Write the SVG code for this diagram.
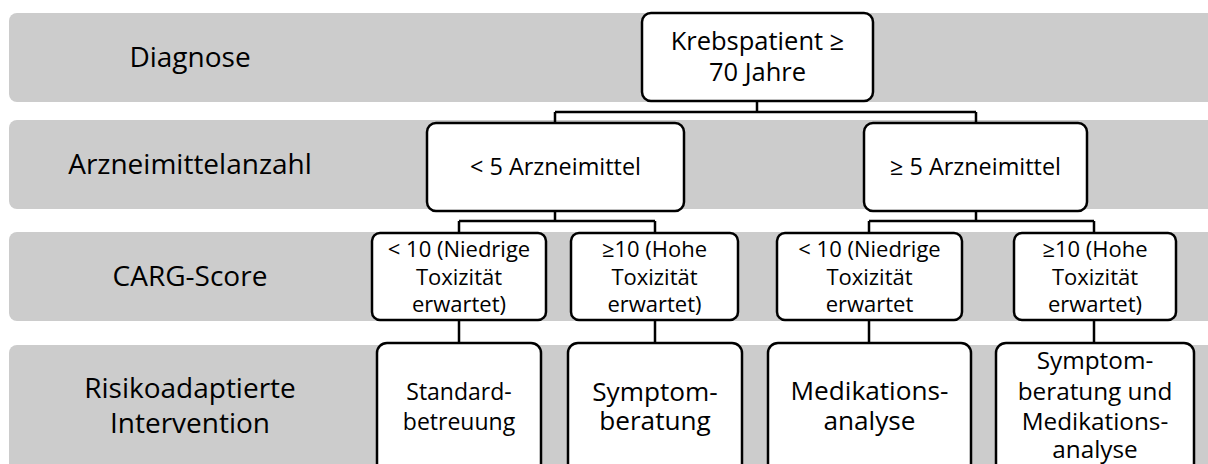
<svg xmlns="http://www.w3.org/2000/svg" width="1208" height="464" viewBox="0 0 1208 464">
<style>
.band{fill:#cccccc;}
.box{fill:#ffffff;stroke:#000000;stroke-width:2.5;}
.conn{fill:none;stroke:#000000;stroke-width:2.5;}
text{font-family:"Open Sans","Liberation Sans",sans-serif;fill:#000000;text-anchor:middle;}
.lbl{font-size:28px;}
.root{font-size:25.5px;}
.n{font-size:23.4px;}
.c{font-size:22px;}
.i{font-size:26.2px;}
.s{font-size:23px;}
.q{font-size:24.3px;}
</style>
<rect width="1208" height="464" fill="#ffffff"/>
<g id="bands">
<rect class="band" x="9" y="13" width="1215" height="89" rx="8"/>
<rect class="band" x="9" y="120" width="1215" height="89" rx="8"/>
<rect class="band" x="9" y="232" width="1215" height="89" rx="8"/>
<rect class="band" x="9" y="345" width="1215" height="130" rx="8"/>
</g>
<g id="band-labels">
<text class="lbl" x="190" y="67">Diagnose</text>
<text class="lbl" x="190" y="174">Arzneimittelanzahl</text>
<text class="lbl" x="190" y="286">CARG-Score</text>
<text class="lbl" x="190" y="398"><tspan x="190" y="398">Risikoadaptierte</tspan><tspan x="190" y="433">Intervention</tspan></text>
</g>
<g id="connectors">
<path class="conn" d="M757 101V112M555 112H976M555 112V123M976 112V123"/>
<path class="conn" d="M555 211V221M459 221H655M459 221V233M655 221V233"/>
<path class="conn" d="M976 211V221M869 221H1094M869 221V233M1094 221V233"/>
<path class="conn" d="M459 320V343M655 320V343M869 320V343M1094 320V343"/>
</g>
<g id="node-root">
<rect class="box" x="642" y="13" width="231" height="88" rx="9"/>
<text class="root"><tspan x="757.5" y="50">Krebspatient ≥</tspan><tspan x="757.5" y="81">70 Jahre</tspan></text>
</g>
<g id="node-lt5">
<rect class="box" x="427" y="123" width="257" height="88" rx="9"/>
<text class="n" x="555.5" y="175">&lt; 5 Arzneimittel</text>
</g>
<g id="node-ge5">
<rect class="box" x="864" y="123" width="223" height="88" rx="9"/>
<text class="n" x="975.5" y="175">≥ 5 Arzneimittel</text>
</g>
<g id="node-carg1">
<rect class="box" x="372" y="233" width="174" height="87" rx="8"/>
<text class="c"><tspan x="459" y="257">&lt; 10 (Niedrige</tspan><tspan x="459" y="285">Toxizität</tspan><tspan x="459" y="312">erwartet)</tspan></text>
</g>
<g id="node-carg2">
<rect class="box" x="571" y="233" width="167" height="87" rx="8"/>
<text class="c"><tspan x="654.5" y="257">≥10 (Hohe</tspan><tspan x="654.5" y="285">Toxizität</tspan><tspan x="654.5" y="312">erwartet)</tspan></text>
</g>
<g id="node-carg3">
<rect class="box" x="777" y="233" width="185" height="87" rx="8"/>
<text class="c"><tspan x="869.5" y="257">&lt; 10 (Niedrige</tspan><tspan x="869.5" y="285">Toxizität</tspan><tspan x="869.5" y="312">erwartet</tspan></text>
</g>
<g id="node-carg4">
<rect class="box" x="1014" y="233" width="162" height="87" rx="8"/>
<text class="c"><tspan x="1095" y="257">≥10 (Hohe</tspan><tspan x="1095" y="285">Toxizität</tspan><tspan x="1095" y="312">erwartet)</tspan></text>
</g>
<g id="node-int1">
<rect class="box" x="377" y="343" width="164" height="135" rx="10"/>
<text class="s"><tspan x="459" y="400">Standard-</tspan><tspan x="459" y="430">betreuung</tspan></text>
</g>
<g id="node-int2">
<rect class="box" x="568" y="343" width="174" height="135" rx="10"/>
<text class="i"><tspan x="655" y="401">Symptom-</tspan><tspan x="655" y="430">beratung</tspan></text>
</g>
<g id="node-int3">
<rect class="box" x="768" y="343" width="203" height="135" rx="10"/>
<text class="i"><tspan x="869.5" y="400">Medikations-</tspan><tspan x="869.5" y="430">analyse</tspan></text>
</g>
<g id="node-int4">
<rect class="box" x="996" y="343" width="198" height="135" rx="10"/>
<text class="q"><tspan x="1095" y="369">Symptom-</tspan><tspan x="1095" y="400">beratung und</tspan><tspan x="1095" y="430">Medikations-</tspan><tspan x="1095" y="458">analyse</tspan></text>
</g>
</svg>
